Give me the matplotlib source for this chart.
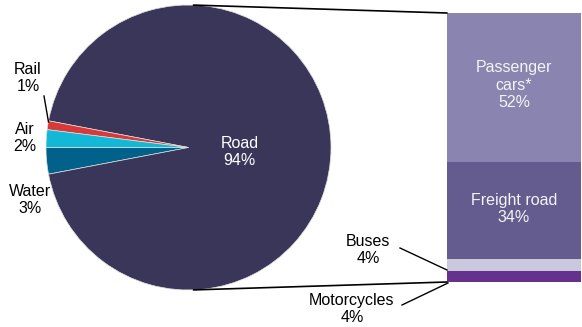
import numpy as np
import matplotlib
matplotlib.use("Agg")
import matplotlib.pyplot as plt
from matplotlib.patches import ConnectionPatch

plt.rcParams['font.family'] = ['Liberation Sans', 'DejaVu Sans']

# Pie data (counter-clockwise from the left)
pie_labels = ["Water", "Road", "Rail", "Air"]
pie_values = [3, 94, 1, 2]
pie_colors = ["#00618a", "#3a3659", "#d83a3a", "#12b8d6"]

# Bar (breakdown of Road), bottom to top
bar_labels = ["Motorcycles", "Buses", "Freight road", "Passenger\ncars*"]
bar_values = [4, 4, 34, 52]
bar_colors = ["#65318f", "#cac8dc", "#645b8e", "#8a84b0"]

W, H = 582, 327
fig = plt.figure(figsize=(W / 100, H / 100), dpi=100)

def fbox(x0, y0, x1, y1):
    return [x0 / W, 1 - y1 / H, (x1 - x0) / W, (y1 - y0) / H]

ax1 = fig.add_axes(fbox(46, 5, 331, 290))
wedges, _ = ax1.pie(pie_values, colors=pie_colors, startangle=180, counterclock=True,
                    wedgeprops=dict(edgecolor="#e0e0e0", linewidth=0.5))
ax1.set_xlim(-1, 1)
ax1.set_ylim(-1, 1)
ax1.set_aspect('auto')
ax1.axis('off')

fs = 11.5
ax1.text(0.36, -0.03, f"Road\n{pie_values[1]}%", color="white", ha="center", va="center", fontsize=fs)

def pc(px, py):
    return ((px - 188.5) / 142.5, -(py - 147.5) / 142.5)

x, y = pc(28, 78)
ax1.text(x, y, f"Rail\n{pie_values[2]}%", ha="center", va="center", fontsize=fs, clip_on=False)
x, y = pc(25, 138)
ax1.text(x, y, f"Air\n{pie_values[3]}%", ha="center", va="center", fontsize=fs, clip_on=False)
x, y = pc(30, 200)
ax1.text(x, y, f"Water\n{pie_values[0]}%", ha="center", va="center", fontsize=fs, clip_on=False)
x0, y0 = pc(44, 96)
x1, y1 = pc(48.5, 122)
ax1.plot([x0, x1], [y0, y1], color="black", lw=1, clip_on=False)

ax2 = fig.add_axes(fbox(447, 13, 581, 282))
bottom = 0
mids = []
for v, c in zip(bar_values, bar_colors):
    ax2.bar(0, v, bottom=bottom, width=1, color=c, edgecolor="none")
    mids.append(bottom + v / 2)
    bottom += v
ax2.set_xlim(-0.5, 0.5)
ax2.set_ylim(0, bottom)
ax2.axis('off')

ax2.text(0, mids[3] + 0.8, f"{bar_labels[3]}\n{bar_values[3]}%", color="#f4f4f4",
         ha="center", va="center", fontsize=fs)
ax2.text(0, mids[2] + 0.5, f"{bar_labels[2]}\n{bar_values[2]}%", color="#f4f4f4",
         ha="center", va="center", fontsize=fs)

def fp(px, py):
    return (px / W, 1 - py / H)

fig.text(*fp(368, 250), f"{bar_labels[1]}\n{bar_values[1]}%", ha="center", va="center", fontsize=fs)
fig.text(*fp(352, 309), f"{bar_labels[0]}\n{bar_values[0]}%", ha="center", va="center", fontsize=fs)
for (a, b), (c, d) in [((400, 248), (447, 270)), ((402, 305), (448, 283))]:
    fig.add_artist(plt.Line2D([a / W, c / W], [1 - b / H, 1 - d / H], color="black", lw=1,
                              transform=fig.transFigure))

ang = np.deg2rad(88)
for sgn, yb in [(1, bottom), (-1, 0)]:
    con = ConnectionPatch(xyA=(np.cos(ang), sgn * np.sin(ang)), coordsA=ax1.transData,
                          xyB=(-0.5, yb), coordsB=ax2.transData, color="black", lw=1.2)
    fig.add_artist(con)

fig.savefig("out.png", dpi=100)
